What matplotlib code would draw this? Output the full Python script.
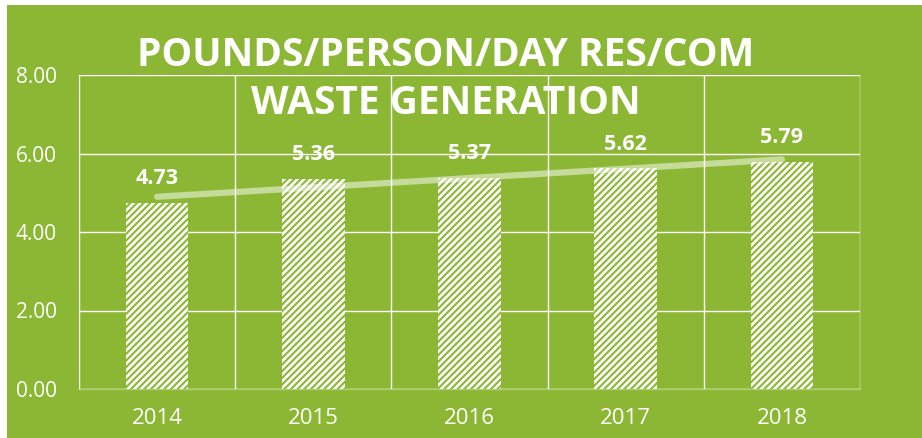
import matplotlib
matplotlib.use("Agg")
import matplotlib.pyplot as plt
import matplotlib.patches as mpatches
import numpy as np

years = ["2014", "2015", "2016", "2017", "2018"]
values = [4.73, 5.36, 5.37, 5.62, 5.79]
yticks = [0, 2, 4, 6, 8]
title_lines = ["POUNDS/PERSON/DAY RES/COM", "WASTE GENERATION"]

GREEN = "#8cb734"
plt.rcParams["font.family"] = ["Open Sans", "DejaVu Sans"]
plt.rcParams["hatch.linewidth"] = 1.5

fig = plt.figure(figsize=(9.22, 4.38), dpi=100)
fig.patch.set_facecolor("white")
# green background panel
fig.patches.append(mpatches.Rectangle((7/922, 0), 1 - 7/922, 1 - 5/438,
                                      transform=fig.transFigure,
                                      facecolor=GREEN, edgecolor="none", zorder=-10))

ax = fig.add_axes([79/922, 49/438, 781/922, 314/438])
ax.set_facecolor("none")
x = np.arange(len(years))
ax.bar(x, values, width=0.4, facecolor="white", edgecolor=GREEN,
       linewidth=0, hatch="/////", zorder=3)

# linear trendline
slope, intercept = np.polyfit(x, values, 1)
ax.plot([x[0], x[-1]], [intercept + slope * x[0], intercept + slope * x[-1]],
        color="white", alpha=0.5, linewidth=4.5, solid_capstyle="round", zorder=4)

for xi, v in zip(x, values):
    ax.annotate(f"{v:.2f}", (xi, v), xytext=(0, 10), textcoords="offset points",
                ha="center", va="bottom", color="white", fontsize=15.5,
                fontweight="bold", zorder=5)

ax.set_xlim(-0.5, len(years) - 0.5)
ax.set_ylim(0, 8)
ax.set_yticks(yticks)
ax.set_yticklabels([f"{t:.2f}" for t in yticks])
ax.set_xticks(x)
ax.set_xticklabels(years)
ax.set_xticks(np.arange(-0.5, len(years)), minor=True)

gridc = (1, 1, 1, 0.15)
ax.grid(axis="y", which="major", color=gridc, linewidth=1.0, zorder=1)
ax.grid(axis="x", which="minor", color=gridc, linewidth=1.0, zorder=1)
for s in ax.spines.values():
    s.set_color(gridc)
    s.set_linewidth(1.0)
ax.spines["bottom"].set_color((1, 1, 1, 0.3))
ax.tick_params(axis="both", which="both", length=0, colors="white", labelsize=15)
ax.tick_params(axis="y", pad=16)
ax.tick_params(axis="x", labelsize=16, pad=14)

fig.text(0.483, 1 - 55/438, title_lines[0], ha="center", va="center",
         color="white", fontsize=28, fontweight="bold", zorder=6)
fig.text(0.483, 1 - 104/438, title_lines[1], ha="center", va="center",
         color="white", fontsize=28, fontweight="bold", zorder=6)

fig.savefig("out.png", dpi=100, facecolor=fig.get_facecolor())
